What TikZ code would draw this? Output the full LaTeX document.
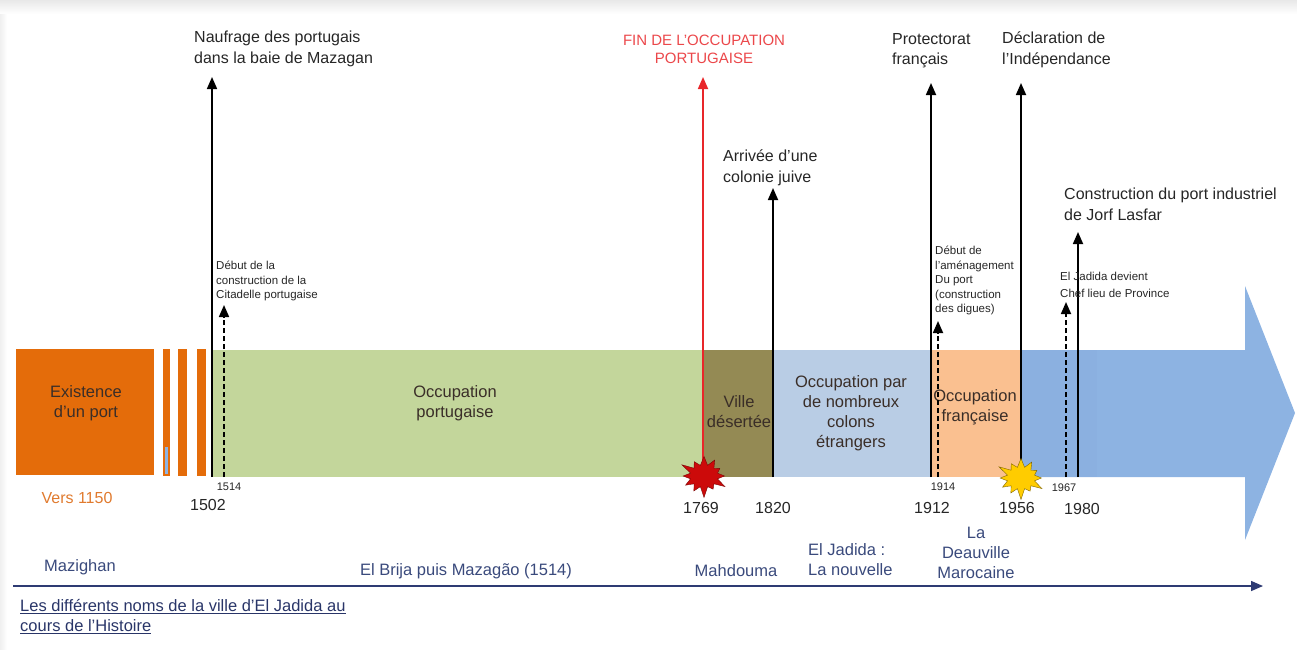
\documentclass[tikz,border=0pt]{standalone}
\usepackage{fontspec}
\setmainfont{Liberation Sans}
\usetikzlibrary{arrows.meta,shapes.symbols}
\definecolor{cOrange}{HTML}{E46C0A}
\definecolor{cGreen}{HTML}{C3D69B}
\definecolor{cOlive}{HTML}{948A54}
\definecolor{cLBlue}{HTML}{B9CDE5}
\definecolor{cPeach}{HTML}{FAC090}
\definecolor{cBlue}{HTML}{8DB3E2}
\definecolor{cBlue2}{HTML}{8BB0E0}
\definecolor{cRed}{HTML}{E8262A}
\definecolor{cTxt}{HTML}{262626}
\definecolor{cName}{HTML}{3A4A7C}
\definecolor{cAxis}{HTML}{2E3B73}
\definecolor{cVers}{HTML}{E07A2E}
\definecolor{cBarTxt}{HTML}{3A2E28}
\definecolor{cBurstR}{HTML}{CC0A0A}
\definecolor{cBurstY}{HTML}{FFCC00}
\begin{document}
\begin{tikzpicture}[x=1pt,y=-1pt,
  evt/.style={line width=1.7pt, draw=black, -{Triangle[length=12pt,width=10pt]}},
  dashevt/.style={evt, dash pattern=on 5pt off 3pt},
  bigtxt/.style={font=\fontsize{16}{20.5}\selectfont, inner sep=0pt, text=cTxt},
  smalltxt/.style={font=\fontsize{11.5}{14.5}\selectfont, inner sep=0pt, text=cTxt},
  yeartxt/.style={font=\fontsize{16}{19}\selectfont, inner sep=0pt, text=cTxt},
  syeartxt/.style={font=\fontsize{11}{13}\selectfont, inner sep=0pt, text=cTxt},
  bartxt/.style={font=\fontsize{16.5}{20}\selectfont, inner sep=0pt, text=cBarTxt, align=center},
  nametxt/.style={font=\fontsize{16.5}{20}\selectfont, inner sep=0pt, text=cName},
  burst/.style={starburst, starburst points=12, starburst point height=12pt,
    minimum width=52pt, minimum height=46pt, inner sep=0pt}
]
\useasboundingbox (0,0) rectangle (1297,649);
% page shadow
\shade[top color=black!9, bottom color=white] (0,0) rectangle (1297,14);
\shade[left color=black!6, right color=white] (0,14) rectangle (7,649);

% ---- time bar ----
\fill[cBlue] (1021,350) -- (1245,350) -- (1245,286) -- (1295,413) -- (1245,540) -- (1245,477) -- (1021,477) -- cycle;
\fill[cBlue2] (1021,350) rectangle (1097,477);
\fill[cOrange] (16,349) rectangle (154,475);
\fill[cOrange] (163,349) rectangle (170,476);
\fill[cOrange] (178,349) rectangle (187,476);
\fill[cOrange] (197,349) rectangle (206,476);
\fill[cBlue] (165,447) rectangle (168,474);
\fill[cGreen] (212,350) rectangle (703,477);
\fill[cOlive] (703,350) rectangle (773,477);
\fill[cLBlue] (773,350) rectangle (931,477);
\fill[cPeach] (931,350) rectangle (1021,477);

% ---- texts in the bar ----
\node[bartxt] (tExist) at (86,403) {Existence\\d'un port};
\node[bartxt] (tPort) at (455,403) {Occupation\\portugaise};
\node[bartxt] (tVille) at (739,412) {Ville\\désertée};
\node[bartxt] (tColons) at (851,413) {Occupation par\\de nombreux\\colons\\étrangers};
\node[bartxt] (tFr) at (975,407) {Occupation\\française};

% ---- event bases and tips ----
\coordinate (b1502) at (212,477); \coordinate (t1502) at (212,77);
\coordinate (b1514) at (224,477); \coordinate (t1514) at (224,305);
\coordinate (b1769) at (703,477); \coordinate (t1769) at (703,77);
\coordinate (b1820) at (773,477); \coordinate (t1820) at (773,188);
\coordinate (b1912) at (931,477); \coordinate (t1912) at (931,83);
\coordinate (b1914) at (938,477); \coordinate (t1914) at (938,321);
\coordinate (b1956) at (1021,477); \coordinate (t1956) at (1021,83);
\coordinate (b1967) at (1066,477); \coordinate (t1967) at (1066,302);
\coordinate (b1980) at (1078,477); \coordinate (t1980) at (1078,232);

\draw[evt] (b1502) -- (t1502);
\draw[dashevt] (b1514) -- (t1514);
\draw[evt, draw=cRed, -{Triangle[length=12pt,width=10pt,fill=cRed]}] (b1769) -- (t1769);
\draw[evt] (b1820) -- (t1820);
\draw[evt] (b1912) -- (t1912);
\draw[dashevt] (b1914) -- (t1914);
\draw[evt] (b1956) -- (t1956);
\draw[dashevt] (b1967) -- (t1967);
\draw[evt] (b1980) -- (t1980);

% starbursts
\node[burst, fill=cBurstR, draw=cBurstR!60!black] (sRed) at (704,476) {};
\node[burst, fill=cBurstY, draw=cBurstY!50!black] (sYel) at (1021,478) {};

% ---- event labels ----
\node[bigtxt, anchor=north west, align=left] (lNauf) at (194,31) {Naufrage des portugais\\dans la baie de Mazagan};
\node[smalltxt, anchor=north west, align=left] (lCit) at (216,261) {Début de la\\construction de la\\Citadelle portugaise};
\node[font=\fontsize{15}{18}\selectfont, inner sep=0pt, text=cRed!85!white, anchor=north, align=center] (lFin) at (704,35) {FIN DE L'OCCUPATION\\PORTUGAISE};
\node[bigtxt, anchor=north west, align=left] (lJuive) at (723,150) {Arrivée d'une\\colonie juive};
\node[bigtxt, anchor=north west, align=left] (lProt) at (892,33) {Protectorat\\français};
\node[smalltxt, anchor=north west, align=left] (lDigues) at (935,246) {Début de\\l'aménagement\\Du port\\(construction\\des digues)};
\node[bigtxt, anchor=north west, align=left] (lIndep) at (1002,32) {Déclaration de\\l'Indépendance};
\node[smalltxt, anchor=north west, align=left, font=\fontsize{11.5}{17}\selectfont] (lChef) at (1060,272) {El Jadida devient\\Chef lieu de Province};
\node[bigtxt, anchor=north west, align=left] (lJorf) at (1064,188) {Construction du port industriel\\de Jorf Lasfar};

% ---- years ----
\node[yeartxt, text=cVers] (yVers) at (77,498) {Vers 1150};
\node[yeartxt] (y1502) at (208,505) {1502};
\node[syeartxt] (y1514) at (229,487) {1514};
\node[yeartxt] (y1769) at (701,508) {1769};
\node[yeartxt] (y1820) at (773,508) {1820};
\node[yeartxt] (y1912) at (932,508) {1912};
\node[syeartxt] (y1914) at (943,487) {1914};
\node[yeartxt] (y1956) at (1017,508) {1956};
\node[syeartxt] (y1967) at (1064,488) {1967};
\node[yeartxt] (y1980) at (1082,509) {1980};

% ---- names axis ----
\coordinate (axL) at (13,586);
\coordinate (axR) at (1263,586);
\draw[line width=1.4pt, draw=cAxis, -{Triangle[length=12pt,width=10pt,fill=cAxis]}] (axL) -- (axR);
\node[nametxt] (nMaz) at (80,567) {Mazighan};
\node[nametxt] (nBrija) at (466,571) {El Brija puis Mazagão (1514)};
\node[nametxt] (nMahd) at (736,571) {Mahdouma};
\node[nametxt, anchor=west, align=left] (nJad) at (808,560) {El Jadida :\\La nouvelle};
\node[nametxt, align=center] (nDeau) at (976,553) {La\\Deauville\\Marocaine};
\node[nametxt, anchor=north west, align=left, text=cAxis!90!black] (nTitle) at (20,599)
  {\underline{Les différents noms de la ville d'El Jadida au}\\\underline{cours de l'Histoire}};
\end{tikzpicture}
\end{document}
